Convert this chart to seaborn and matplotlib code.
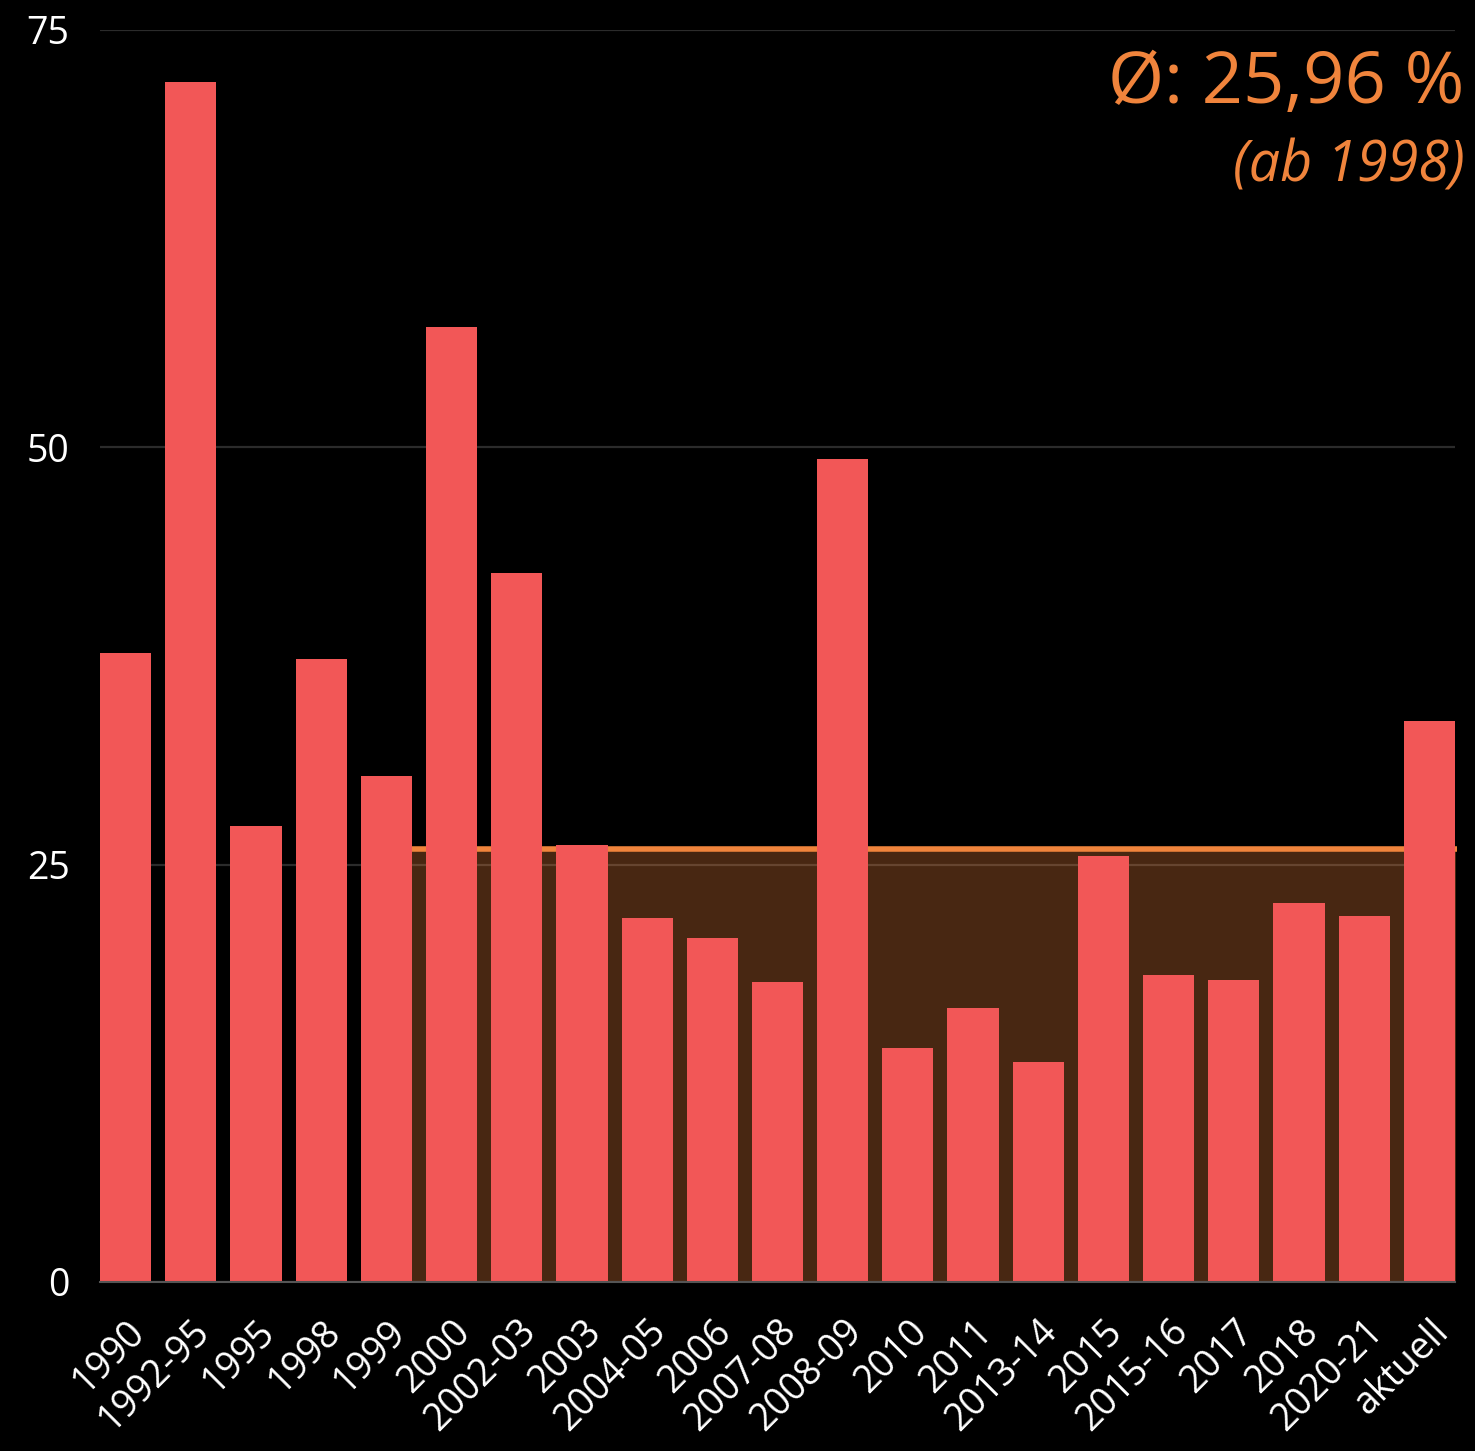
import numpy as np
import pandas as pd
import matplotlib.pyplot as plt
import seaborn as sns

# Werte (in %) je Zeitraum
periods = ["1990", "1992-95", "1995", "1998", "1999", "2000", "2002-03", "2003",
           "2004-05", "2006", "2007-08", "2008-09", "2010", "2011", "2013-14",
           "2015", "2015-16", "2017", "2018", "2020-21", "aktuell"]
values = [37.7, 71.9, 27.3, 37.3, 30.3, 57.2, 42.5, 26.2, 21.8, 20.6, 18.0,
          49.3, 14.0, 16.4, 13.2, 25.5, 18.4, 18.1, 22.7, 21.9, 33.6]
avg_value = 25.96
avg_start = "1999"
y_ticks = [0, 25, 50, 75]

bar_color = "#f25757"
avg_color = "#f0843c"

df = pd.DataFrame({"period": periods, "value": values})

sns.set_theme(style="dark")
plt.rcParams["font.family"] = ["Open Sans", "DejaVu Sans"]

fig = plt.figure(figsize=(14.75, 14.51), dpi=100, facecolor="black")
ax = fig.add_axes([100 / 1475, 169 / 1451, 1355 / 1475, 1252 / 1451])
ax.set_facecolor("black")

# Durchschnittsbereich hinter den Balken
x0 = periods.index(avg_start)
x_end = len(periods) - 1 + 0.42
ax.fill_between([x0, x_end], 0, avg_value,
                color=avg_color, alpha=0.3, linewidth=0, zorder=1)
ax.plot([x0, x_end], [avg_value, avg_value],
        color=avg_color, linewidth=4, zorder=2, clip_on=False,
        solid_capstyle="butt")

sns.barplot(data=df, x="period", y="value", color=bar_color, width=0.785,
            saturation=1, ax=ax, zorder=3, edgecolor="none", linewidth=0)

ax.set_xlim(-0.3925, len(periods) - 1 + 0.3925)
ax.set_ylim(0, 75)
ax.set_yticks(y_ticks)
ax.set_yticklabels([str(t) for t in y_ticks])
ax.yaxis.grid(True, color="#2b2b2b", linewidth=1.6, zorder=0)
ax.xaxis.grid(False)
ax.set_axisbelow(True)
for s in ["top", "right", "left"]:
    ax.spines[s].set_visible(False)
ax.spines["bottom"].set_color("#555555")
ax.spines["bottom"].set_linewidth(1.5)
ax.spines["bottom"].set_zorder(4)

ax.tick_params(axis="y", length=0, pad=22, labelsize=27, labelcolor="white")
ax.tick_params(axis="x", length=0, pad=22, labelsize=27, labelcolor="white")
for lab in ax.get_xticklabels():
    lab.set_rotation(45)
    lab.set_ha("right")
    lab.set_va("top")
    lab.set_rotation_mode("anchor")
ax.set_xlabel("")
ax.set_ylabel("")

fig.text(0.993, 1 - 103 / 1451, "Ø: 25,96 %", color=avg_color, fontsize=52,
         ha="right", va="baseline")
fig.text(0.993, 1 - 181 / 1451, "(ab 1998)", color=avg_color, fontsize=40,
         style="italic", ha="right", va="baseline")

fig.savefig("out.png", dpi=100, facecolor="black")
